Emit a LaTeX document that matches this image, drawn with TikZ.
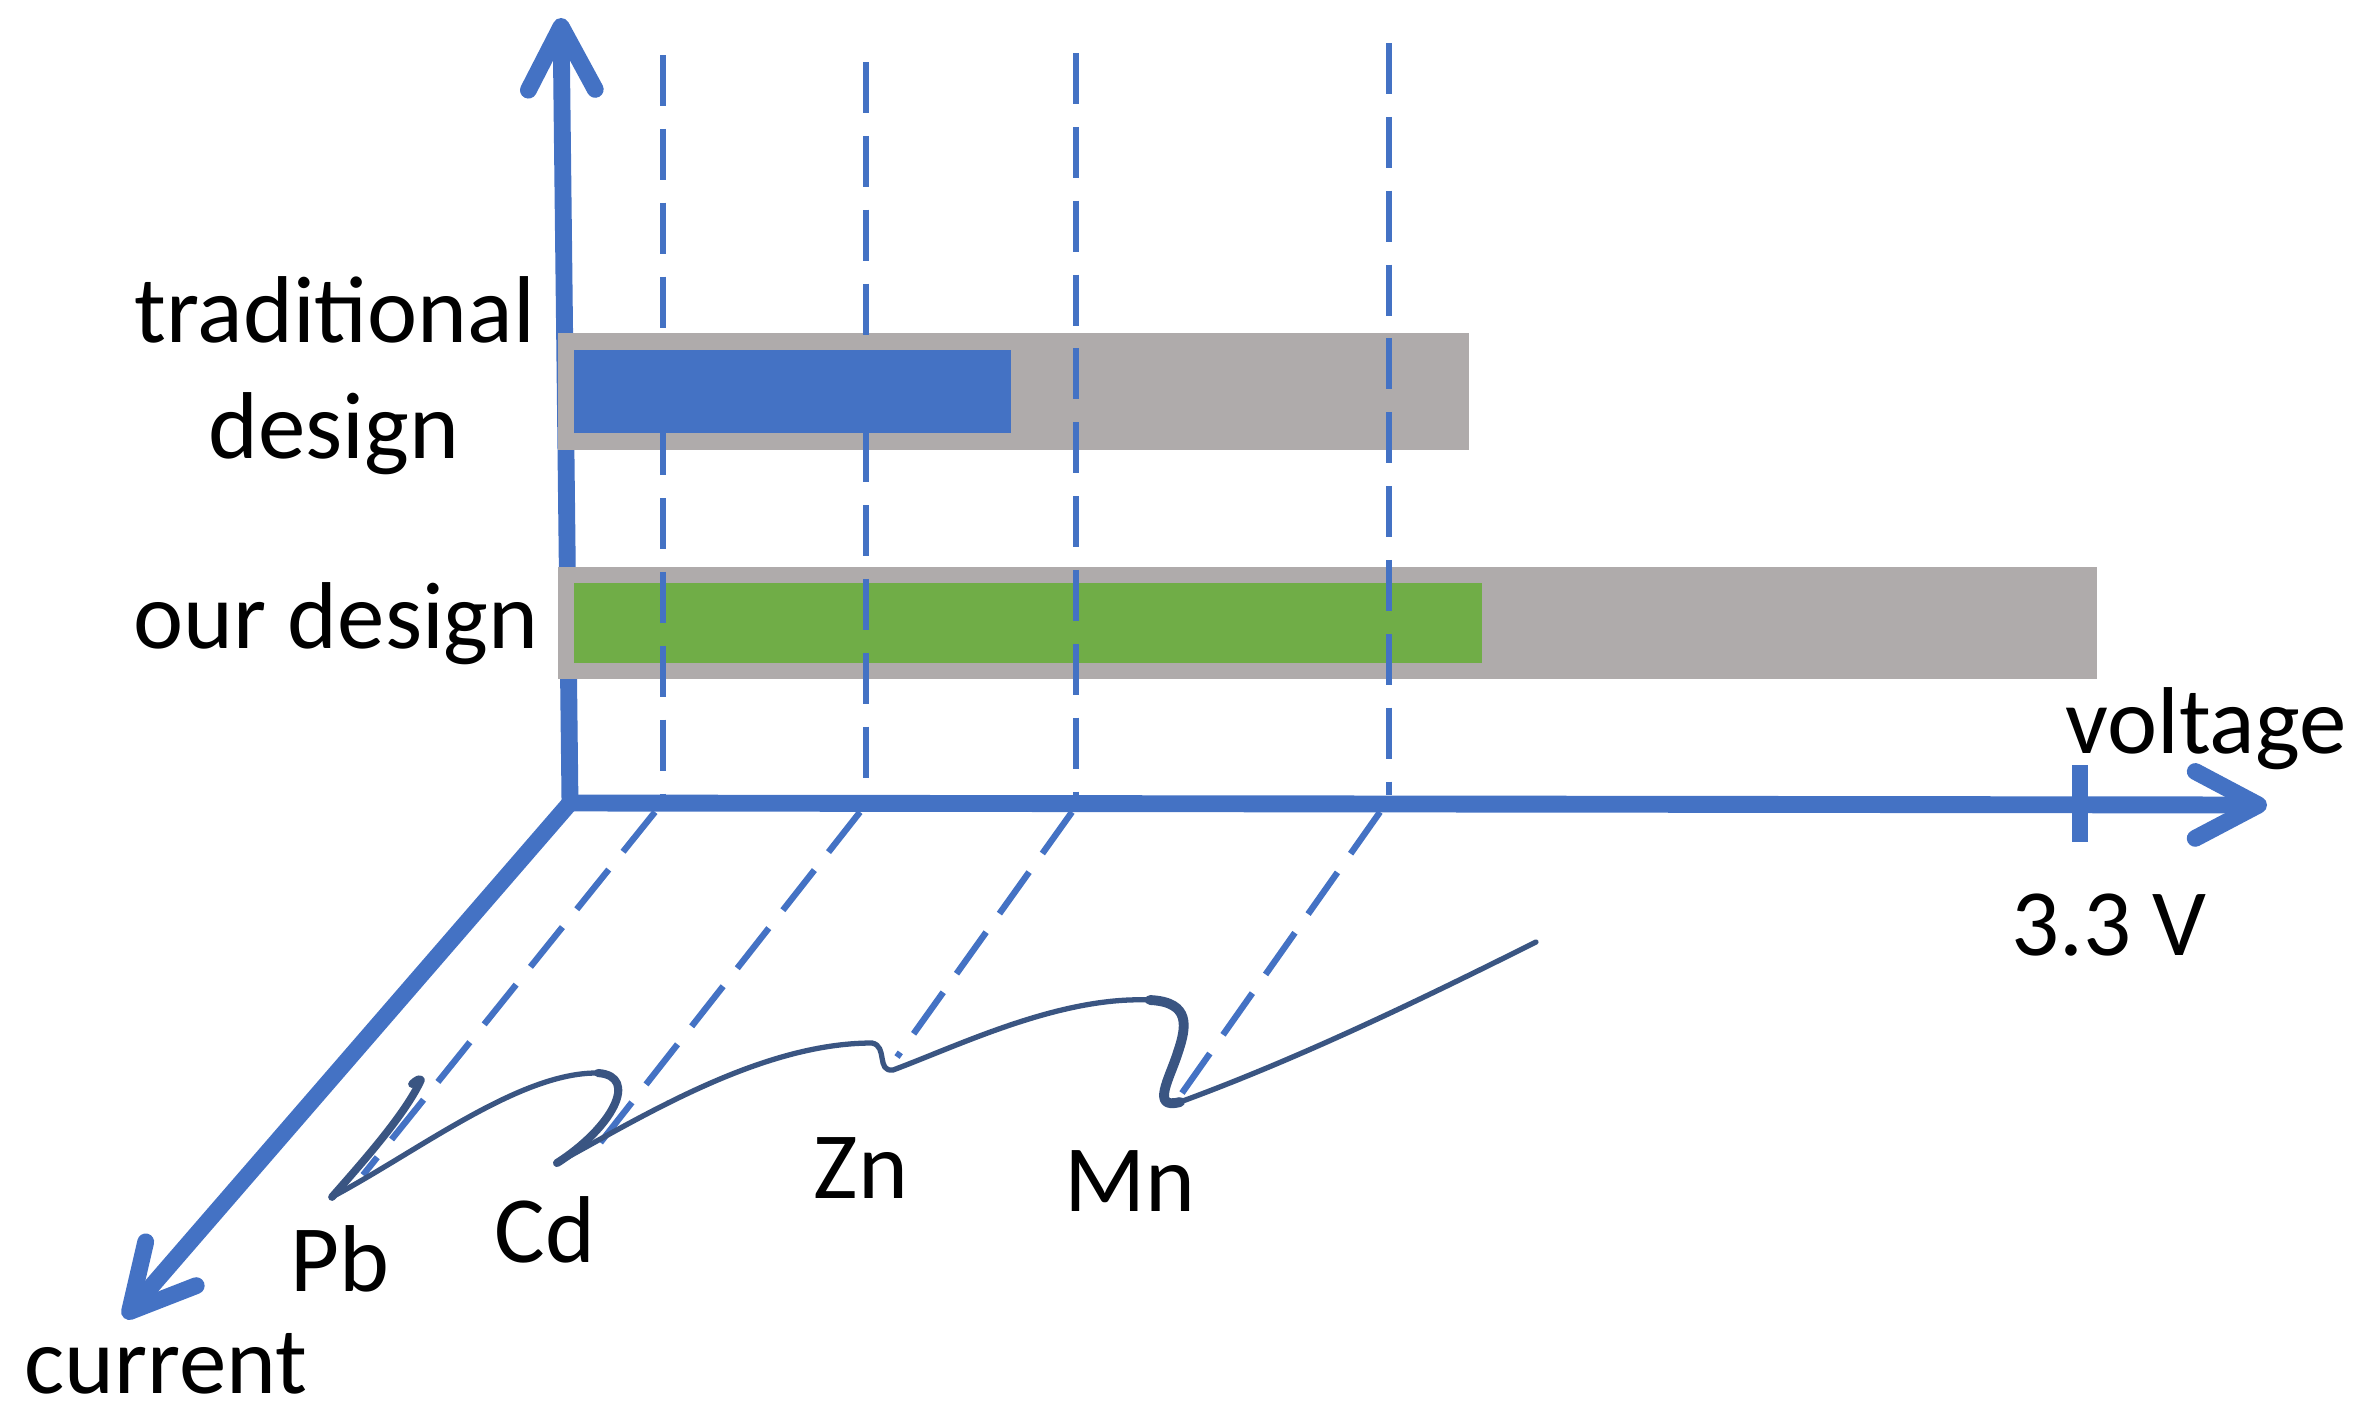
\documentclass[tikz,border=0pt]{standalone}
\usepackage{fontspec}
\setmainfont{Carlito}
\usetikzlibrary{arrows.meta}
\definecolor{axisblue}{HTML}{4472C4}
\definecolor{bargray}{HTML}{AFABAB}
\definecolor{barblue}{HTML}{4472C4}
\definecolor{bargreen}{HTML}{70AD47}
\definecolor{curvecol}{HTML}{3A5582}
\begin{document}
\begin{tikzpicture}[x=0.01cm,y=-0.01cm,
  axisline/.style={draw=axisblue, line width=4.8pt, line cap=round, line join=round},
  axisarrow/.style={axisline, -{Straight Barb[length=18pt,width=19pt,round]}},
  guide/.style={draw=axisblue, line width=1.8pt, dash pattern=on 14.5pt off 6.5pt},
  lbl/.style={font=\fontsize{27}{32}\selectfont, text=black, inner sep=0pt, anchor=base},
  curvestyle/.style={draw=curvecol, line width=1.5pt, line cap=round, line join=round}]
\useasboundingbox (0,0) rectangle (2362,1417);
% axis points
\coordinate (O) at (570,803);
\coordinate (Ytip) at (561,18);
\coordinate (Xtip) at (2267,805);
\coordinate (Ztip) at (124,1318);
\coordinate (T1) at (2080,765);
\coordinate (T2) at (2080,842);
% axes
\draw[axisarrow] (O) -- (Ytip);
\draw[axisarrow] (O) -- (Xtip);
\draw[axisarrow] (O) -- (Ztip);
\draw[axisline, line cap=butt] (T1) -- (T2);
% bars
\fill[bargray] (558,333) rectangle (1469,450);
\fill[barblue] (574,350) rectangle (1011,433);
\fill[bargray] (558,567) rectangle (2097,679);
\fill[bargreen] (574,583) rectangle (1482,663);
% vertical guides
\coordinate (V1t) at (663,55);  \coordinate (V1b) at (663,795);
\coordinate (V2t) at (866,62);  \coordinate (V2b) at (866,795);
\coordinate (V3t) at (1076,53); \coordinate (V3b) at (1076,795);
\coordinate (V4t) at (1389,43); \coordinate (V4b) at (1389,795);
\draw[guide] (V1t) -- (V1b);
\draw[guide] (V2t) -- (V2b);
\draw[guide] (V3t) -- (V3b);
\draw[guide] (V4t) -- (V4b);
% diagonal guides
\coordinate (D1a) at (655,812); \coordinate (D1b) at (363,1175);
\coordinate (D2a) at (860,812); \coordinate (D2b) at (600,1143);
\coordinate (D3a) at (1072,812); \coordinate (D3b) at (897,1057);
\coordinate (D4a) at (1380,812); \coordinate (D4b) at (1182,1093);
\draw[guide] (D1a) -- (D1b);
\draw[guide] (D2a) -- (D2b);
\draw[guide] (D3a) -- (D3b);
\draw[guide] (D4a) -- (D4b);
% curve, in pieces of varying stroke weight
\coordinate (C0) at (412,1084);
\coordinate (C1) at (421,1080);
\coordinate (C2) at (332,1197);
\coordinate (C3) at (598,1073);
\coordinate (C4) at (557,1163);
\coordinate (C5) at (872,1043);
\coordinate (C6) at (893,1070);
\coordinate (C7) at (1150,1000);
\coordinate (C8) at (1178,1052);
\coordinate (C9) at (1180,1102);
\coordinate (C10) at (1536,942);
\draw[curvestyle, line width=2.2pt] (C0) .. controls (416,1080) and (420,1078) .. (C1)
  .. controls (405,1115) and (360,1165) .. (C2);
\draw[curvestyle] (C2) .. controls (420,1150) and (520,1072) .. (C3);
\draw[curvestyle, line width=2.3pt] (C3) .. controls (640,1076) and (612,1128) .. (C4);
\draw[curvestyle] (C4) .. controls (640,1118) and (760,1043) .. (C5)
  .. controls (888,1046) and (876,1072) .. (C6)
  .. controls (960,1045) and (1060,996) .. (C7);
\draw[curvestyle, line width=2.8pt] (C7) .. controls (1192,1002) and (1186,1028) .. (C8)
  .. controls (1170,1078) and (1150,1110) .. (C9);
\draw[curvestyle] (C9) .. controls (1300,1058) and (1420,1000) .. (C10);
% labels
\node[lbl] (trad) at (335,342) {traditional};
\node[lbl] (tradd) at (334,458) {design};
\node[lbl] (ours) at (336,648) {our design};
\node[lbl] (volt) at (2206,753) {voltage};
\node[lbl] (vmax) at (2109,955) {3.3 V};
\node[lbl] (curr) at (166,1393) {current};
\node[lbl] (pb) at (340,1291) {Pb};
\node[lbl] (cd) at (545,1262) {Cd};
\node[lbl] (zn) at (861,1198) {Zn};
\node[lbl] (mn) at (1130,1211) {Mn};
\end{tikzpicture}
\end{document}
